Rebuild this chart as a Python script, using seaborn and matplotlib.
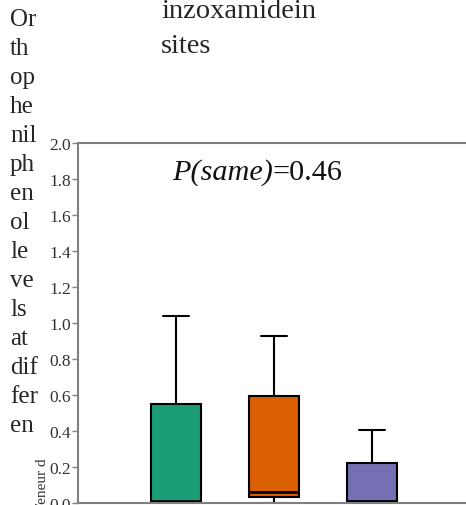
import numpy as np
import pandas as pd
import matplotlib
matplotlib.use("Agg")
import matplotlib.pyplot as plt
import seaborn as sns

# data
sites = ["Site 1", "Site 2", "Site 3"]
site1 = [0.0, 0.0, 0.01, 0.55, 1.04]
site2 = [0.0, 0.033, 0.06, 0.594, 0.93]
site3 = [0.0, 0.0, 0.01, 0.222, 0.407]
colors = ["#1b9e77", "#d95f02", "#7570b3"]
yticks = [0.0, 0.2, 0.4, 0.6, 0.8, 1.0, 1.2, 1.4, 1.6, 1.8, 2.0]

df = pd.DataFrame({
    "site": np.repeat(sites, 5),
    "value": site1 + site2 + site3,
})

sns.set_style("white")
plt.rcParams["font.family"] = ["Liberation Serif", "DejaVu Serif"]

W, H = 466, 506
fig = plt.figure(figsize=(W / 100, H / 100), dpi=100)
ax = fig.add_axes([78 / W, 2 / H, (W - 78) / W, 360 / H])

sns.boxplot(data=df, x="site", y="value", hue="site", order=sites,
            palette=colors, saturation=1, width=0.52, whis=10,
            linecolor="black", linewidth=1.5, legend=False, ax=ax,
            medianprops={"color": "black", "linewidth": 2})

ax.set_xlim(-1.0, -1.0 + (W - 78) / 98)
ax.set_ylim(0, 2.0)
ax.set_yticks(yticks)
ax.set_yticklabels([f"{t:.1f}" for t in yticks])
ax.set_xlabel("")
ax.set_ylabel("")
ax.tick_params(axis="y", direction="out", length=4, width=1, color="#808080",
               labelsize=12.5, labelcolor="#333333", pad=1, left=True)
ax.tick_params(axis="x", bottom=False, labelbottom=False)
for side in ["left", "top", "bottom"]:
    ax.spines[side].set_color("#808080")
    ax.spines[side].set_linewidth(1.5)
ax.spines["right"].set_visible(False)

# P(same) annotation: italic part then roman part
p1 = fig.text(172 / W, 1 - 180 / H, "P(same)", fontsize=21.8, style="italic",
              va="baseline", ha="left", color="#111111")
ax.annotate("=0.46", xy=(1, 0), xycoords=p1, fontsize=21.8, va="bottom",
            ha="left", color="#111111")

# wrapped title pieces (va=baseline aligns the last line)
fig.text(10 / W, 1 - 432 / H,
         "Or\nth\nop\nhe\nnil\nph\nen\nol\nle\nve\nls\nat\ndif\nfer\nen",
         fontsize=18, va="baseline", ha="left", linespacing=1.41)
fig.text(161 / W, 1 - 53 / H, "inzoxamidein\nsites", fontsize=20.5,
         va="baseline", ha="left", linespacing=1.55)
fig.text(43 / W, -6 / H, "Teneur d", fontsize=11, rotation=90,
         ha="center", va="bottom", color="#333333")

fig.savefig("out.png", dpi=100)
